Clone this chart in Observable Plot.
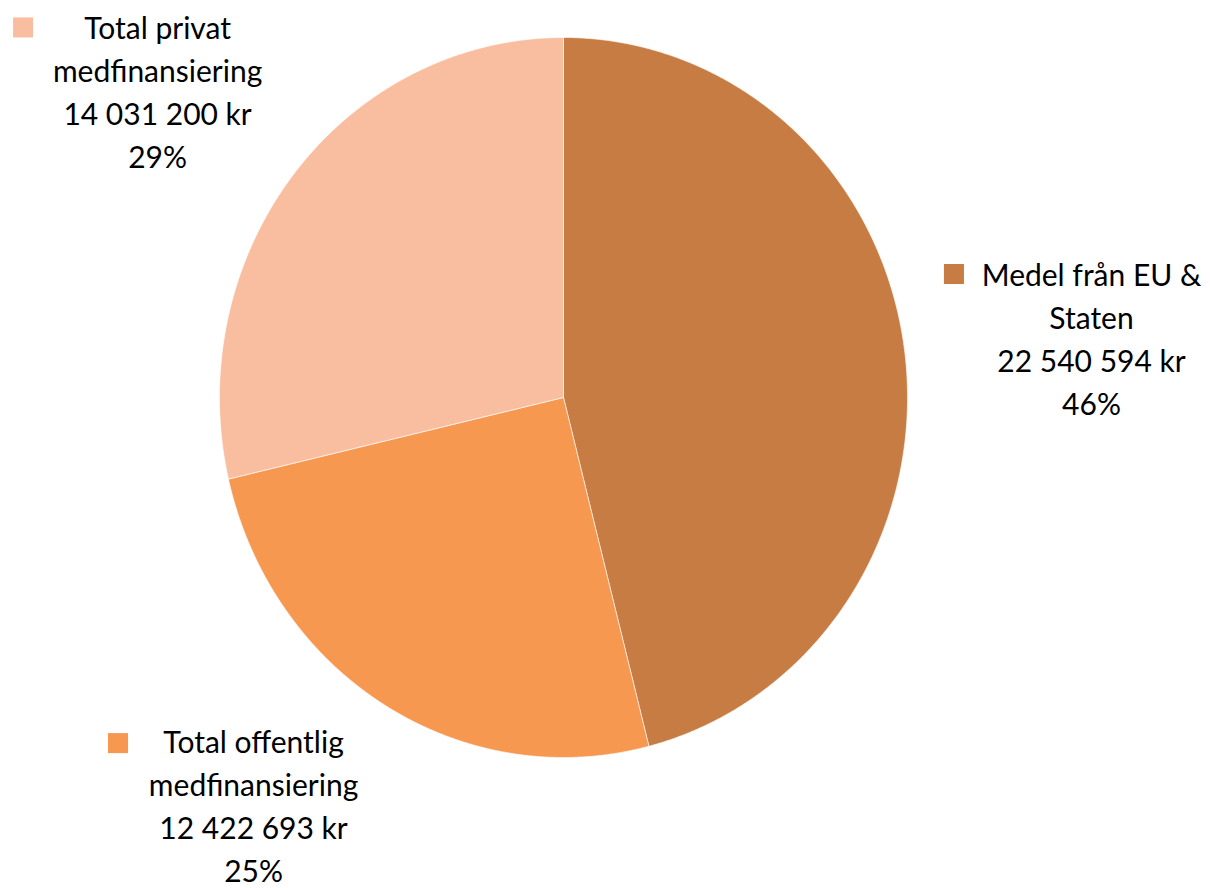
<!DOCTYPE html>
<html>
<head>
<meta charset="utf-8">
<script src="https://cdn.jsdelivr.net/npm/d3@7"></script>
<script src="https://cdn.jsdelivr.net/npm/@observablehq/plot@0.6"></script>
<style>
  html, body { margin: 0; padding: 0; background: #ffffff; }
  #chart svg { display: block; }
</style>
</head>
<body>
<div id="chart"></div>
<script>
// ---- data ----
const categories = ["Medel från EU & Staten", "Total offentlig medfinansiering", "Total privat medfinansiering"];
const labelLines = [["Medel från EU &", "Staten"], ["Total offentlig", "medfinansiering"], ["Total privat", "medfinansiering"]];
const amounts = [22540594, 12422693, 14031200];
const amountLabels = ["22 540 594 kr", "12 422 693 kr", "14 031 200 kr"];
const percentLabels = ["46%", "25%", "29%"];
const colors = ["#C77C43", "#F79850", "#F9BDA0"];

// ---- layout (label anchors in pie units; pie radius = 1) ----
const labelPos = [[1.535, 0.394], [-0.901, -0.903], [-1.18, 1.08]];
const markerPos = [[1.135, 0.343], [-1.295, -0.96], [-1.571, 1.028]];

const total = d3.sum(amounts);
let acc = 0;
const slices = amounts.map((v, i) => {
  const a0 = acc / total * 2 * Math.PI;
  acc += v;
  const a1 = acc / total * 2 * Math.PI;
  return {i, a0, a1};
});

const pts = [];
for (const s of slices) {
  pts.push({cat: categories[s.i], x: 0, y: 0});
  const n = Math.max(2, Math.ceil((s.a1 - s.a0) / (Math.PI / 720)));
  for (let k = 0; k <= n; k++) {
    const a = s.a0 + (s.a1 - s.a0) * k / n;
    pts.push({cat: categories[s.i], x: Math.sin(a), y: Math.cos(a)});
  }
  pts.push({cat: categories[s.i], x: 0, y: 0});
}

const labels = categories.map((c, i) => ({
  cat: c,
  text: [...labelLines[i], amountLabels[i], percentLabels[i]].join("\n"),
  x: labelPos[i][0], y: labelPos[i][1],
  mx: markerPos[i][0], my: markerPos[i][1]
}));

const chart = Plot.plot({
  width: 1210,
  height: 888,
  margin: 0,
  style: {fontFamily: "Lato, sans-serif", background: "#ffffff"},
  x: {domain: [-1, 1], range: [219, 907], axis: null},
  y: {domain: [-1, 1], range: [757, 37], axis: null},
  color: {domain: categories, range: colors},
  marks: [
    Plot.line(pts, {x: "x", y: "y", z: "cat", fill: "cat", stroke: "#ffffff", strokeWidth: 1, strokeOpacity: 0.6, curve: "linear"}),
    Plot.text(labels, {x: "x", y: "y", text: "text", fontSize: 30, lineHeight: 1.433, lineAnchor: "top", textAnchor: "middle", fill: "#000000"}),
    Plot.dot(labels, {x: "mx", y: "my", fill: "cat", symbol: "square", r: 11.3, stroke: null})
  ]
});
document.getElementById("chart").appendChild(chart);
</script>
</body>
</html>
